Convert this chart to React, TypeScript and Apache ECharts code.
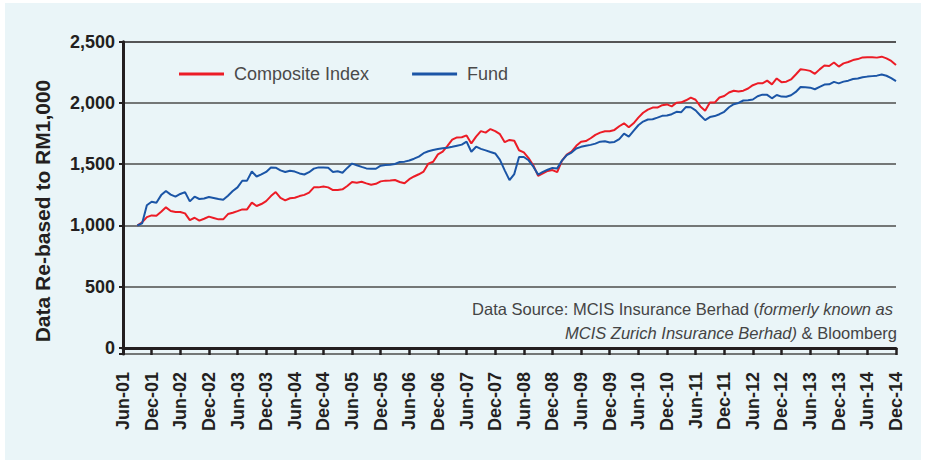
import React, { useEffect, useRef } from "react";
import * as echarts from "echarts";

// Monthly categories Jun-01 .. Dec-14
const monthNames = ["Jan", "Feb", "Mar", "Apr", "May", "Jun", "Jul", "Aug", "Sep", "Oct", "Nov", "Dec"];
const categories: string[] = [];
for (let y = 2001; y <= 2014; y++) {
  for (let m = 0; m < 12; m++) {
    if (y === 2001 && m < 5) continue;
    categories.push(`${monthNames[m]}-${String(y % 100).padStart(2, "0")}`);
  }
}

// Series begin in Sep-01 (three empty months after Jun-01)
const leadingGap = [null, null, null];

const compositeIndex = [
  1000, 1025, 1068, 1082, 1080, 1112, 1148, 1118, 1110, 1110,
  1099, 1044, 1063, 1039, 1055, 1072, 1061, 1050, 1050, 1093,
  1104, 1117, 1131, 1131, 1186, 1159, 1175, 1199, 1240, 1273,
  1225, 1205, 1222, 1226, 1240, 1250, 1268, 1311, 1311, 1318,
  1311, 1289, 1289, 1295, 1322, 1355, 1349, 1357, 1344, 1332,
  1340, 1360, 1366, 1368, 1371, 1355, 1344, 1378, 1400, 1418,
  1440, 1505, 1520, 1580, 1602, 1650, 1700, 1719, 1720, 1735,
  1670, 1725, 1770, 1758, 1787, 1770, 1745, 1680, 1698, 1692,
  1614, 1597, 1550, 1490, 1405, 1425, 1445, 1452, 1435, 1530,
  1578, 1602, 1650, 1684, 1689, 1712, 1740, 1758, 1769, 1769,
  1780, 1810, 1834, 1801, 1834, 1880, 1920, 1946, 1962, 1962,
  1982, 1988, 1972, 2002, 2005, 2022, 2044, 2026, 1972, 1937,
  2003, 2003, 2045, 2057, 2085, 2100, 2093, 2100, 2118, 2145,
  2160, 2160, 2182, 2152, 2200, 2170, 2174, 2192, 2232, 2275,
  2270, 2262, 2238, 2274, 2305, 2302, 2330, 2297, 2323, 2334,
  2350, 2358, 2372, 2373, 2373, 2370, 2378, 2364, 2343, 2310,
];

const fund = [
  1000, 1017, 1165, 1194, 1186, 1248, 1282, 1252, 1235, 1257,
  1272, 1197, 1235, 1216, 1220, 1232, 1224, 1216, 1210, 1243,
  1281, 1311, 1365, 1366, 1440, 1400, 1417, 1437, 1474, 1472,
  1450, 1436, 1447, 1440, 1425, 1416, 1435, 1464, 1474, 1474,
  1472, 1436, 1442, 1431, 1470, 1505, 1492, 1478, 1466, 1463,
  1463, 1488, 1494, 1496, 1502, 1518, 1521, 1530, 1545, 1562,
  1590, 1606, 1616, 1624, 1630, 1635, 1642, 1651, 1660, 1684,
  1602, 1643, 1625, 1613, 1600, 1588, 1535, 1450, 1370, 1420,
  1559, 1559, 1532, 1480, 1415, 1438, 1455, 1470, 1466, 1530,
  1575, 1595, 1628, 1642, 1650, 1658, 1668, 1684, 1688, 1678,
  1682, 1705, 1750, 1725, 1772, 1818, 1848, 1865, 1867, 1880,
  1895, 1897, 1908, 1928, 1925, 1968, 1965, 1940, 1898, 1860,
  1885, 1893, 1908, 1928, 1965, 1990, 2000, 2020, 2022, 2028,
  2055, 2068, 2066, 2038, 2065, 2052, 2051, 2063, 2090, 2130,
  2128, 2125, 2112, 2132, 2150, 2152, 2172, 2160, 2174, 2182,
  2195, 2200, 2210, 2215, 2219, 2223, 2232, 2222, 2202, 2178,
];

const seriesNames = ["Composite Index", "Fund"];
const yAxisTitle = "Data Re-based to RM1,000";
const sourceLine1 = ["Data Source: MCIS Insurance Berhad (", "formerly known as"];
const sourceLine2 = ["MCIS Zurich Insurance Berhad)", " & Bloomberg"];

const FONT = '"Liberation Sans", Arial, sans-serif';
const INK = "#231f20";

function fmt(v: number): string {
  if (v < -1e-6) return "";
  const n = Math.round(Math.abs(v));
  return String(n).replace(/\B(?=(\d{3})+(?!\d))/g, ",");
}

export default function App() {
  const ref = useRef<HTMLDivElement>(null);

  useEffect(() => {
    document.body.style.margin = "0";
    if (!ref.current) return;
    const chart = echarts.init(ref.current, null, { renderer: "svg" });
    const gridLine = "#4d4d4d";
    chart.setOption({
      animation: false,
      backgroundColor: "transparent",
      grid: { left: 123, right: 30, top: 41.7, bottom: 106, containLabel: false },
      legend: {
        left: 179,
        top: 65,
        padding: 0,
        icon: "rect",
        itemWidth: 45,
        itemHeight: 3,
        itemGap: 43,
        data: seriesNames,
        textStyle: { fontFamily: FONT, fontSize: 18, color: "#4a4a4a", padding: [0, 0, 0, 5] },
      },
      xAxis: {
        type: "category",
        data: categories,
        boundaryGap: false,
        axisLine: { lineStyle: { color: INK, width: 3 } },
        axisTick: { interval: 5, length: 7, lineStyle: { color: INK, width: 2.5 } },
        axisLabel: {
          interval: 5,
          rotate: 90,
          margin: 18,
          fontFamily: FONT,
          fontWeight: "bold",
          fontSize: 18,
          color: INK,
        },
        splitLine: { show: false },
      },
      yAxis: {
        type: "value",
        min: -49,
        max: 2500,
        splitNumber: 5,
        axisLine: { show: true, lineStyle: { color: INK, width: 3 } },
        axisTick: { show: true, length: 4, lineStyle: { color: INK, width: 2 } },
        axisLabel: {
          margin: 8,
          fontFamily: FONT,
          fontWeight: "bold",
          fontSize: 18,
          color: INK,
          formatter: (v: number) => fmt(v),
        },
        splitLine: {
          show: true,
          lineStyle: {
            width: 1.6,
            color: [gridLine, "rgba(0,0,0,0)", gridLine, gridLine, gridLine, gridLine, INK],
          },
        },
      },
      series: [
        {
          name: seriesNames[0],
          type: "line",
          data: [...leadingGap, ...compositeIndex],
          symbol: "none",
          lineStyle: { color: "#ec1c26", width: 2 },
          itemStyle: { color: "#ec1c26" },
          z: 3,
        },
        {
          name: seriesNames[1],
          type: "line",
          data: [...leadingGap, ...fund],
          symbol: "none",
          lineStyle: { color: "#1b55a6", width: 2 },
          itemStyle: { color: "#1b55a6" },
          z: 4,
        },
      ],
      graphic: [
        {
          type: "text",
          x: 42,
          y: 211,
          rotation: Math.PI / 2,
          style: {
            text: yAxisTitle,
            font: `bold 21px ${FONT}`,
            fill: INK,
            textAlign: "center",
            textVerticalAlign: "middle",
            align: "center",
            verticalAlign: "middle",
          },
        },
        {
          type: "text",
          x: 893,
          y: 309,
          style: {
            text: `{n|${sourceLine1[0]}}{i|${sourceLine1[1]}}`,
            rich: {
              n: { fontFamily: FONT, fontSize: 16.5, fill: "#444", color: "#444" },
              i: { fontFamily: FONT, fontSize: 16.5, fontStyle: "italic", fill: "#444", color: "#444" },
            },
            textAlign: "right",
            textVerticalAlign: "middle",
            align: "right",
            verticalAlign: "middle",
          },
        },
        {
          type: "text",
          x: 897,
          y: 333,
          style: {
            text: `{i|${sourceLine2[0]}}{n|${sourceLine2[1]}}`,
            rich: {
              n: { fontFamily: FONT, fontSize: 16.5, fill: "#444", color: "#444" },
              i: { fontFamily: FONT, fontSize: 16.5, fontStyle: "italic", fill: "#444", color: "#444" },
            },
            textAlign: "right",
            textVerticalAlign: "middle",
            align: "right",
            verticalAlign: "middle",
          },
        },
      ],
    });
    return () => chart.dispose();
  }, []);

  return (
    <div style={{ position: "fixed", left: 0, top: 0, width: 926, height: 460, background: "#ffffff" }}>
      <div style={{ position: "absolute", left: 5, top: 3, width: 916, height: 457, background: "#eaf5f8" }} />
      <div ref={ref} style={{ position: "absolute", left: 0, top: 0, width: 926, height: 460 }} />
    </div>
  );
}
